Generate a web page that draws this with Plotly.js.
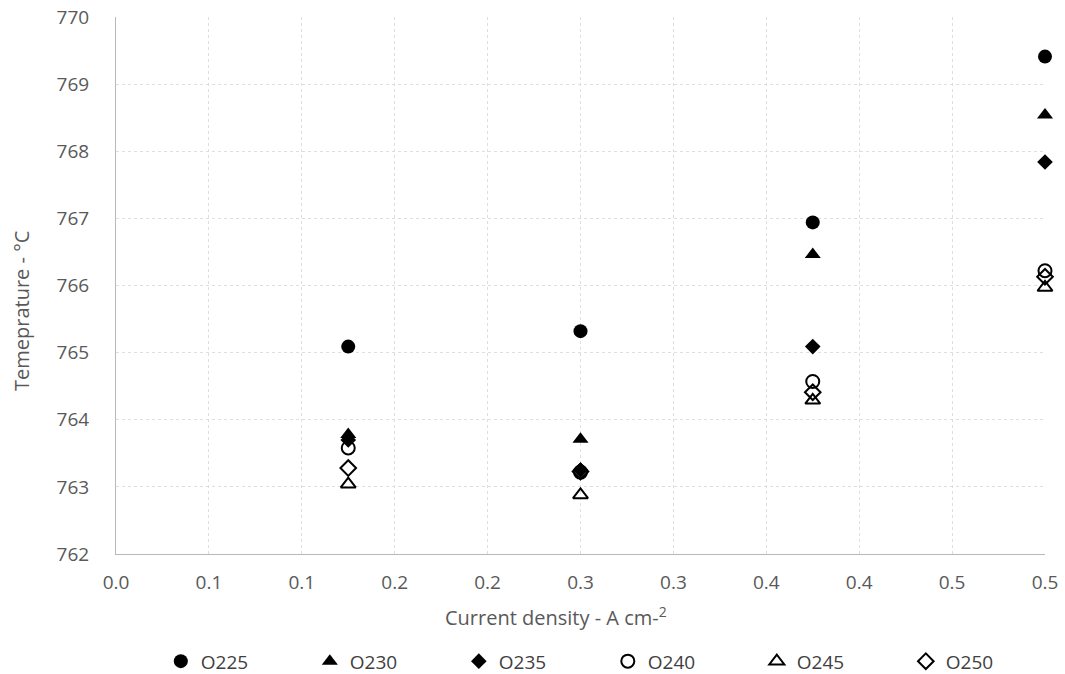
<!DOCTYPE html>
<html><head><meta charset="utf-8">
<script src="https://cdn.plot.ly/plotly-3.0.1.min.js"></script>
<style>html,body{margin:0;padding:0;background:#fff}#chart{width:1065px;height:674px}</style>
</head><body><div id="chart"></div>
<script>
const currentDensity = [0.125, 0.25, 0.375, 0.5];
const seriesNames = ["O225", "O230", "O235", "O240", "O245", "O250"];
const O225 = [765.09, 765.32, 766.94, 769.41];
const O230 = [763.78, 763.71, 766.46, 768.54];
const O235 = [763.70, 763.25, 765.09, 767.84];
const O240 = [763.58, 763.22, 764.57, 766.22];
const O245 = [763.04, 762.88, 764.29, 765.97];
const O250 = [763.28, 763.23, 764.41, 766.13];
const xTickVals = [0, 0.05, 0.1, 0.15, 0.2, 0.25, 0.3, 0.35, 0.4, 0.45, 0.5];
const xTickText = ["0.0", "0.1", "0.1", "0.2", "0.2", "0.3", "0.3", "0.4", "0.4", "0.5", "0.5"];
const yTickVals = [762, 763, 764, 765, 766, 767, 768, 769, 770];
const xTitle = "Current density - A cm-<sup>2</sup>";
const yTitle = "Temeprature - °C";

const values = [O225, O230, O235, O240, O245, O250];
const symbols = ["circle", "triangle-up", "diamond", "circle-open", "triangle-up-open", "diamond-open"];
const sizes = [14, 14, 12, 13, 13, 12];

const traces = seriesNames.map((n, i) => ({
  type: "scatter", mode: "markers", name: n,
  x: currentDensity, y: values[i], cliponaxis: false,
  marker: { symbol: symbols[i], size: sizes[i], color: "#000",
            line: { color: "#000", width: symbols[i].includes("open") ? 2 : 0 } }
}));

const gray = "#595959";
const fam = "Open Sans, sans-serif";
const layout = {
  width: 1065, height: 674,
  margin: { l: 116, r: 20, t: 17, b: 120 },
  paper_bgcolor: "#fff", plot_bgcolor: "#fff",
  font: { family: fam, color: gray, size: 19 },
  showlegend: true,
  legend: { orientation: "h", xref: "container", yref: "container", x: 0.151, y: 0.047,
            xanchor: "left", yanchor: "top", entrywidth: 104, entrywidthmode: "pixels",
            itemwidth: 30, font: { size: 19, color: "#404040", family: fam } },
  xaxis: {
    range: [0, 0.5], tickmode: "array", tickvals: xTickVals, ticktext: xTickText,
    showgrid: true, gridcolor: "#dedede", griddash: "dot", gridwidth: 1,
    zeroline: false, showline: true, linecolor: "#b8b8b8", ticks: "",
    ticklabelstandoff: 11, tickfont: { size: 19, color: gray, family: fam }
  },
  yaxis: {
    range: [762, 770], tickmode: "array", tickvals: yTickVals,
    showgrid: true, gridcolor: "#dedede", griddash: "dot", gridwidth: 1,
    zeroline: false, showline: true, linecolor: "#b8b8b8", ticks: "",
    ticklabelstandoff: 22, tickfont: { size: 19, color: gray, family: fam }
  },
  annotations: [
    { text: xTitle, xref: "paper", yref: "paper", x: (556 - 116) / 929, y: -(616 - 554) / 537,
      xanchor: "center", yanchor: "middle", showarrow: false, font: { size: 20, color: gray, family: fam } },
    { text: yTitle, xref: "paper", yref: "paper", x: -(116 - 21) / 929, y: (554 - 311) / 537,
      xanchor: "center", yanchor: "middle", textangle: -90, showarrow: false, font: { size: 20, color: gray, family: fam } }
  ]
};
Plotly.newPlot("chart", traces, layout, { displayModeBar: false });
</script></body></html>
